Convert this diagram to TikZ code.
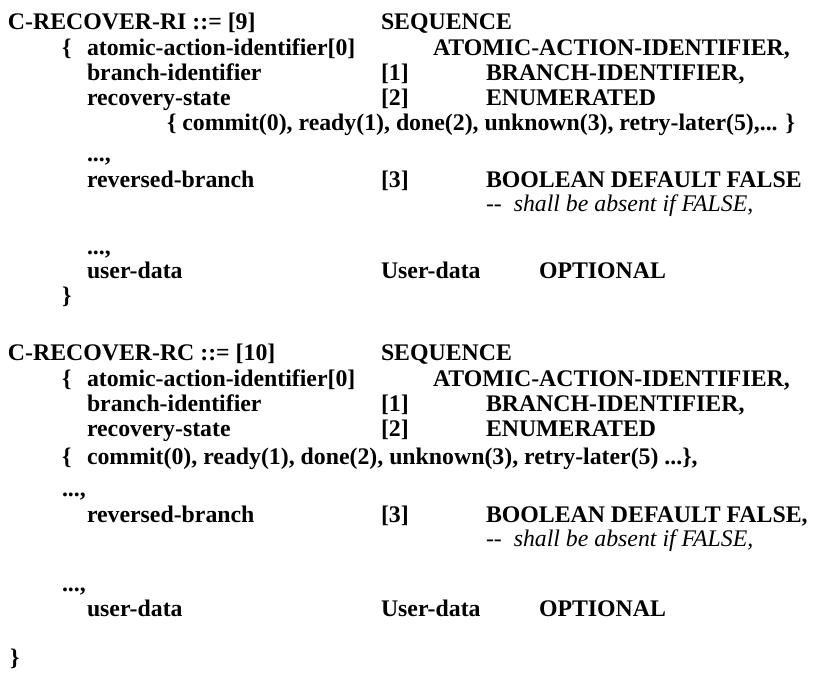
\documentclass[tikz,border=0pt]{standalone}
\usepackage{fontspec}
\setmainfont{Liberation Serif}
\begin{document}
\begin{tikzpicture}[x=1pt,y=-1pt,
  t/.style={anchor=base west, inner sep=0pt, outer sep=0pt, font=\fontsize{23.8}{28}\selectfont\bfseries},
  cmt/.style={anchor=base west, inner sep=0pt, outer sep=0pt, font=\fontsize{23.8}{28}\selectfont\mdseries}]
\useasboundingbox (0,0) rectangle (815,684);
% ---------- block 1
\node[t] (a1) at (8,30) {C-RECOVER-RI ::= [9]};
\node[t] (a1s) at (381,30) {SEQUENCE};
\node[t] (a2b) at (62,56) {\{};
\node[t] (a2) at (87,56) {atomic-action-identifier[0]};
\node[t] (a2t) at (433,56) {ATOMIC-ACTION-IDENTIFIER,};
\node[t] (a3) at (87,81) {branch-identifier};
\node[t] (a3g) at (381,81) {[1]};
\node[t] (a3t) at (486,81) {BRANCH-IDENTIFIER,};
\node[t] (a4) at (87,106) {recovery-state};
\node[t] (a4g) at (381,106) {[2]};
\node[t] (a4t) at (486,106) {ENUMERATED};
\node[t] (a5) at (167,131) {\{ commit(0), ready(1), done(2), unknown(3), retry-later(5),... \}};
\node[t] (a6) at (87,162) {...,};
\node[t] (a7) at (87,188) {reversed-branch};
\node[t] (a7g) at (381,188) {[3]};
\node[t] (a7t) at (486,188) {BOOLEAN DEFAULT FALSE};
\node[cmt] (a8) at (486,212) {-{}-\ \ \itshape shall be absent if FALSE,};
\node[t] (a9) at (87,255) {...,};
\node[t] (a10) at (87,279) {user-data};
\node[t] (a10g) at (381,279) {User-data};
\node[t] (a10t) at (539,279) {OPTIONAL};
\node[t] (a11) at (62,304) {\}};
% ---------- block 2
\node[t] (b1) at (8,361) {C-RECOVER-RC ::= [10]};
\node[t] (b1s) at (381,361) {SEQUENCE};
\node[t] (b2b) at (62,387) {\{};
\node[t] (b2) at (87,387) {atomic-action-identifier[0]};
\node[t] (b2t) at (433,387) {ATOMIC-ACTION-IDENTIFIER,};
\node[t] (b3) at (87,412) {branch-identifier};
\node[t] (b3g) at (381,412) {[1]};
\node[t] (b3t) at (486,412) {BRANCH-IDENTIFIER,};
\node[t] (b4) at (87,437) {recovery-state};
\node[t] (b4g) at (381,437) {[2]};
\node[t] (b4t) at (486,437) {ENUMERATED};
\node[t] (b5b) at (62,465) {\{};
\node[t] (b5) at (87,465) {commit(0), ready(1), done(2), unknown(3), retry-later(5) ...\},};
\node[t] (b6) at (62,497) {...,};
\node[t] (b7) at (87,523) {reversed-branch};
\node[t] (b7g) at (381,523) {[3]};
\node[t] (b7t) at (486,523) {BOOLEAN DEFAULT FALSE,};
\node[cmt] (b8) at (486,547) {-{}-\ \ \itshape shall be absent if FALSE,};
\node[t] (b9) at (62,592) {...,};
\node[t] (b10) at (87,617) {user-data};
\node[t] (b10g) at (381,617) {User-data};
\node[t] (b10t) at (539,617) {OPTIONAL};
\node[t] (b11) at (10,666) {\}};
\end{tikzpicture}
\end{document}
